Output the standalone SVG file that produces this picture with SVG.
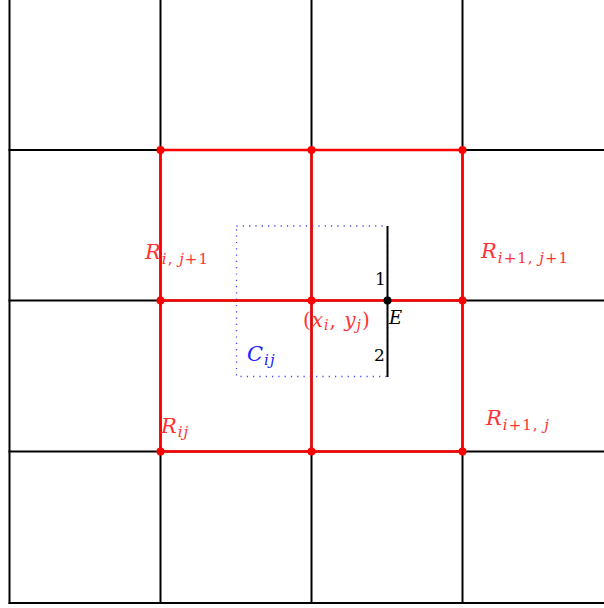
<svg xmlns="http://www.w3.org/2000/svg" width="604" height="608" viewBox="0 0 604 608">
<style>
.grid{stroke:#000;stroke-width:2;fill:none}
.red{stroke:#f00;stroke-width:2.5;fill:none}
.dot{fill:#f00}
.lbl{font-family:"DejaVu Serif","Liberation Serif",serif;fill:#ff3333}
.big{font-size:21px;font-style:italic}
.sub{font-size:15px;letter-spacing:1px}
.it{font-style:italic}
.blk{font-family:"DejaVu Serif","Liberation Serif",serif;fill:#000}
</style>
<rect width="604" height="608" fill="#fff"/>
<g id="connectors">
<g id="grid">
<line class="grid" x1="9.5" y1="0" x2="9.5" y2="604"/>
<line class="grid" x1="160.5" y1="0" x2="160.5" y2="604"/>
<line class="grid" x1="311.5" y1="0" x2="311.5" y2="604"/>
<line class="grid" x1="462.5" y1="0" x2="462.5" y2="604"/>
<line class="grid" x1="8.5" y1="150" x2="604" y2="150"/>
<line class="grid" x1="8.5" y1="300.5" x2="604" y2="300.5"/>
<line class="grid" x1="8.5" y1="451.5" x2="604" y2="451.5"/>
<line class="grid" x1="8.5" y1="603" x2="604" y2="603"/>
</g>
<g id="control-volume">
<rect x="236.5" y="226" width="151" height="150.5" fill="none" stroke="#4444ff" stroke-width="1.3" stroke-dasharray="1.2 5.1"/>
</g>
<g id="red-cells">
<rect class="red" x="160.5" y="150" width="302" height="301.5"/>
<line class="red" x1="311.5" y1="150" x2="311.5" y2="451.5"/>
<line class="red" x1="160.5" y1="300.5" x2="462.5" y2="300.5"/>
</g>
<g id="edge">
<line x1="387.5" y1="226" x2="387.5" y2="377" stroke="#000" stroke-width="2"/>
</g>
</g>
<g id="nodes">
<circle class="dot" cx="160.5" cy="150" r="4"/>
<circle class="dot" cx="311.5" cy="150" r="4"/>
<circle class="dot" cx="462.5" cy="150" r="4"/>
<circle class="dot" cx="160.5" cy="300.5" r="4"/>
<circle class="dot" cx="311.5" cy="300.5" r="4"/>
<circle class="dot" cx="462.5" cy="300.5" r="4"/>
<circle class="dot" cx="160.5" cy="451.5" r="4"/>
<circle class="dot" cx="311.5" cy="451.5" r="4"/>
<circle class="dot" cx="462.5" cy="451.5" r="4"/>
<circle cx="387.5" cy="300.5" r="4" fill="#000"/>
</g>
<g id="label-Rij1"><text class="lbl" x="145" y="259"><tspan class="big">R</tspan><tspan class="sub" dx="1" dy="5"><tspan class="it">i</tspan>, <tspan class="it">j</tspan>+1</tspan></text></g>
<g id="label-Ri1j1"><text class="lbl" x="481" y="258"><tspan class="big">R</tspan><tspan class="sub" dx="1" dy="5"><tspan class="it">i</tspan>+1, <tspan class="it">j</tspan>+1</tspan></text></g>
<g id="label-Rij"><text class="lbl" x="161" y="433"><tspan class="big">R</tspan><tspan class="sub" dx="1" dy="4" letter-spacing="3"><tspan class="it">ij</tspan></tspan></text></g>
<g id="label-Ri1j"><text class="lbl" x="486" y="425"><tspan class="big">R</tspan><tspan class="sub" dx="1" dy="5"><tspan class="it">i</tspan>+1, <tspan class="it">j</tspan></tspan></text></g>
<g id="label-xy"><text class="lbl" x="303" y="327" font-size="20" letter-spacing="1">(<tspan class="it">x</tspan><tspan font-size="14" dy="3" class="it">i</tspan><tspan dy="-3">, </tspan><tspan class="it">y</tspan><tspan font-size="14" dy="3" class="it">j</tspan><tspan dy="-3">)</tspan></text></g>
<g id="label-C"><text class="lbl" x="247" y="361" style="fill:#2222ff"><tspan class="big">C</tspan><tspan class="sub" dx="1" dy="4"><tspan class="it">ij</tspan></tspan></text></g>
<g id="label-E"><text class="blk" x="389" y="324" font-size="18" font-style="italic">E</text></g>
<g id="label-1"><text class="blk" x="375" y="285" font-size="17">1</text></g>
<g id="label-2"><text class="blk" x="374" y="361" font-size="17">2</text></g>
</svg>
